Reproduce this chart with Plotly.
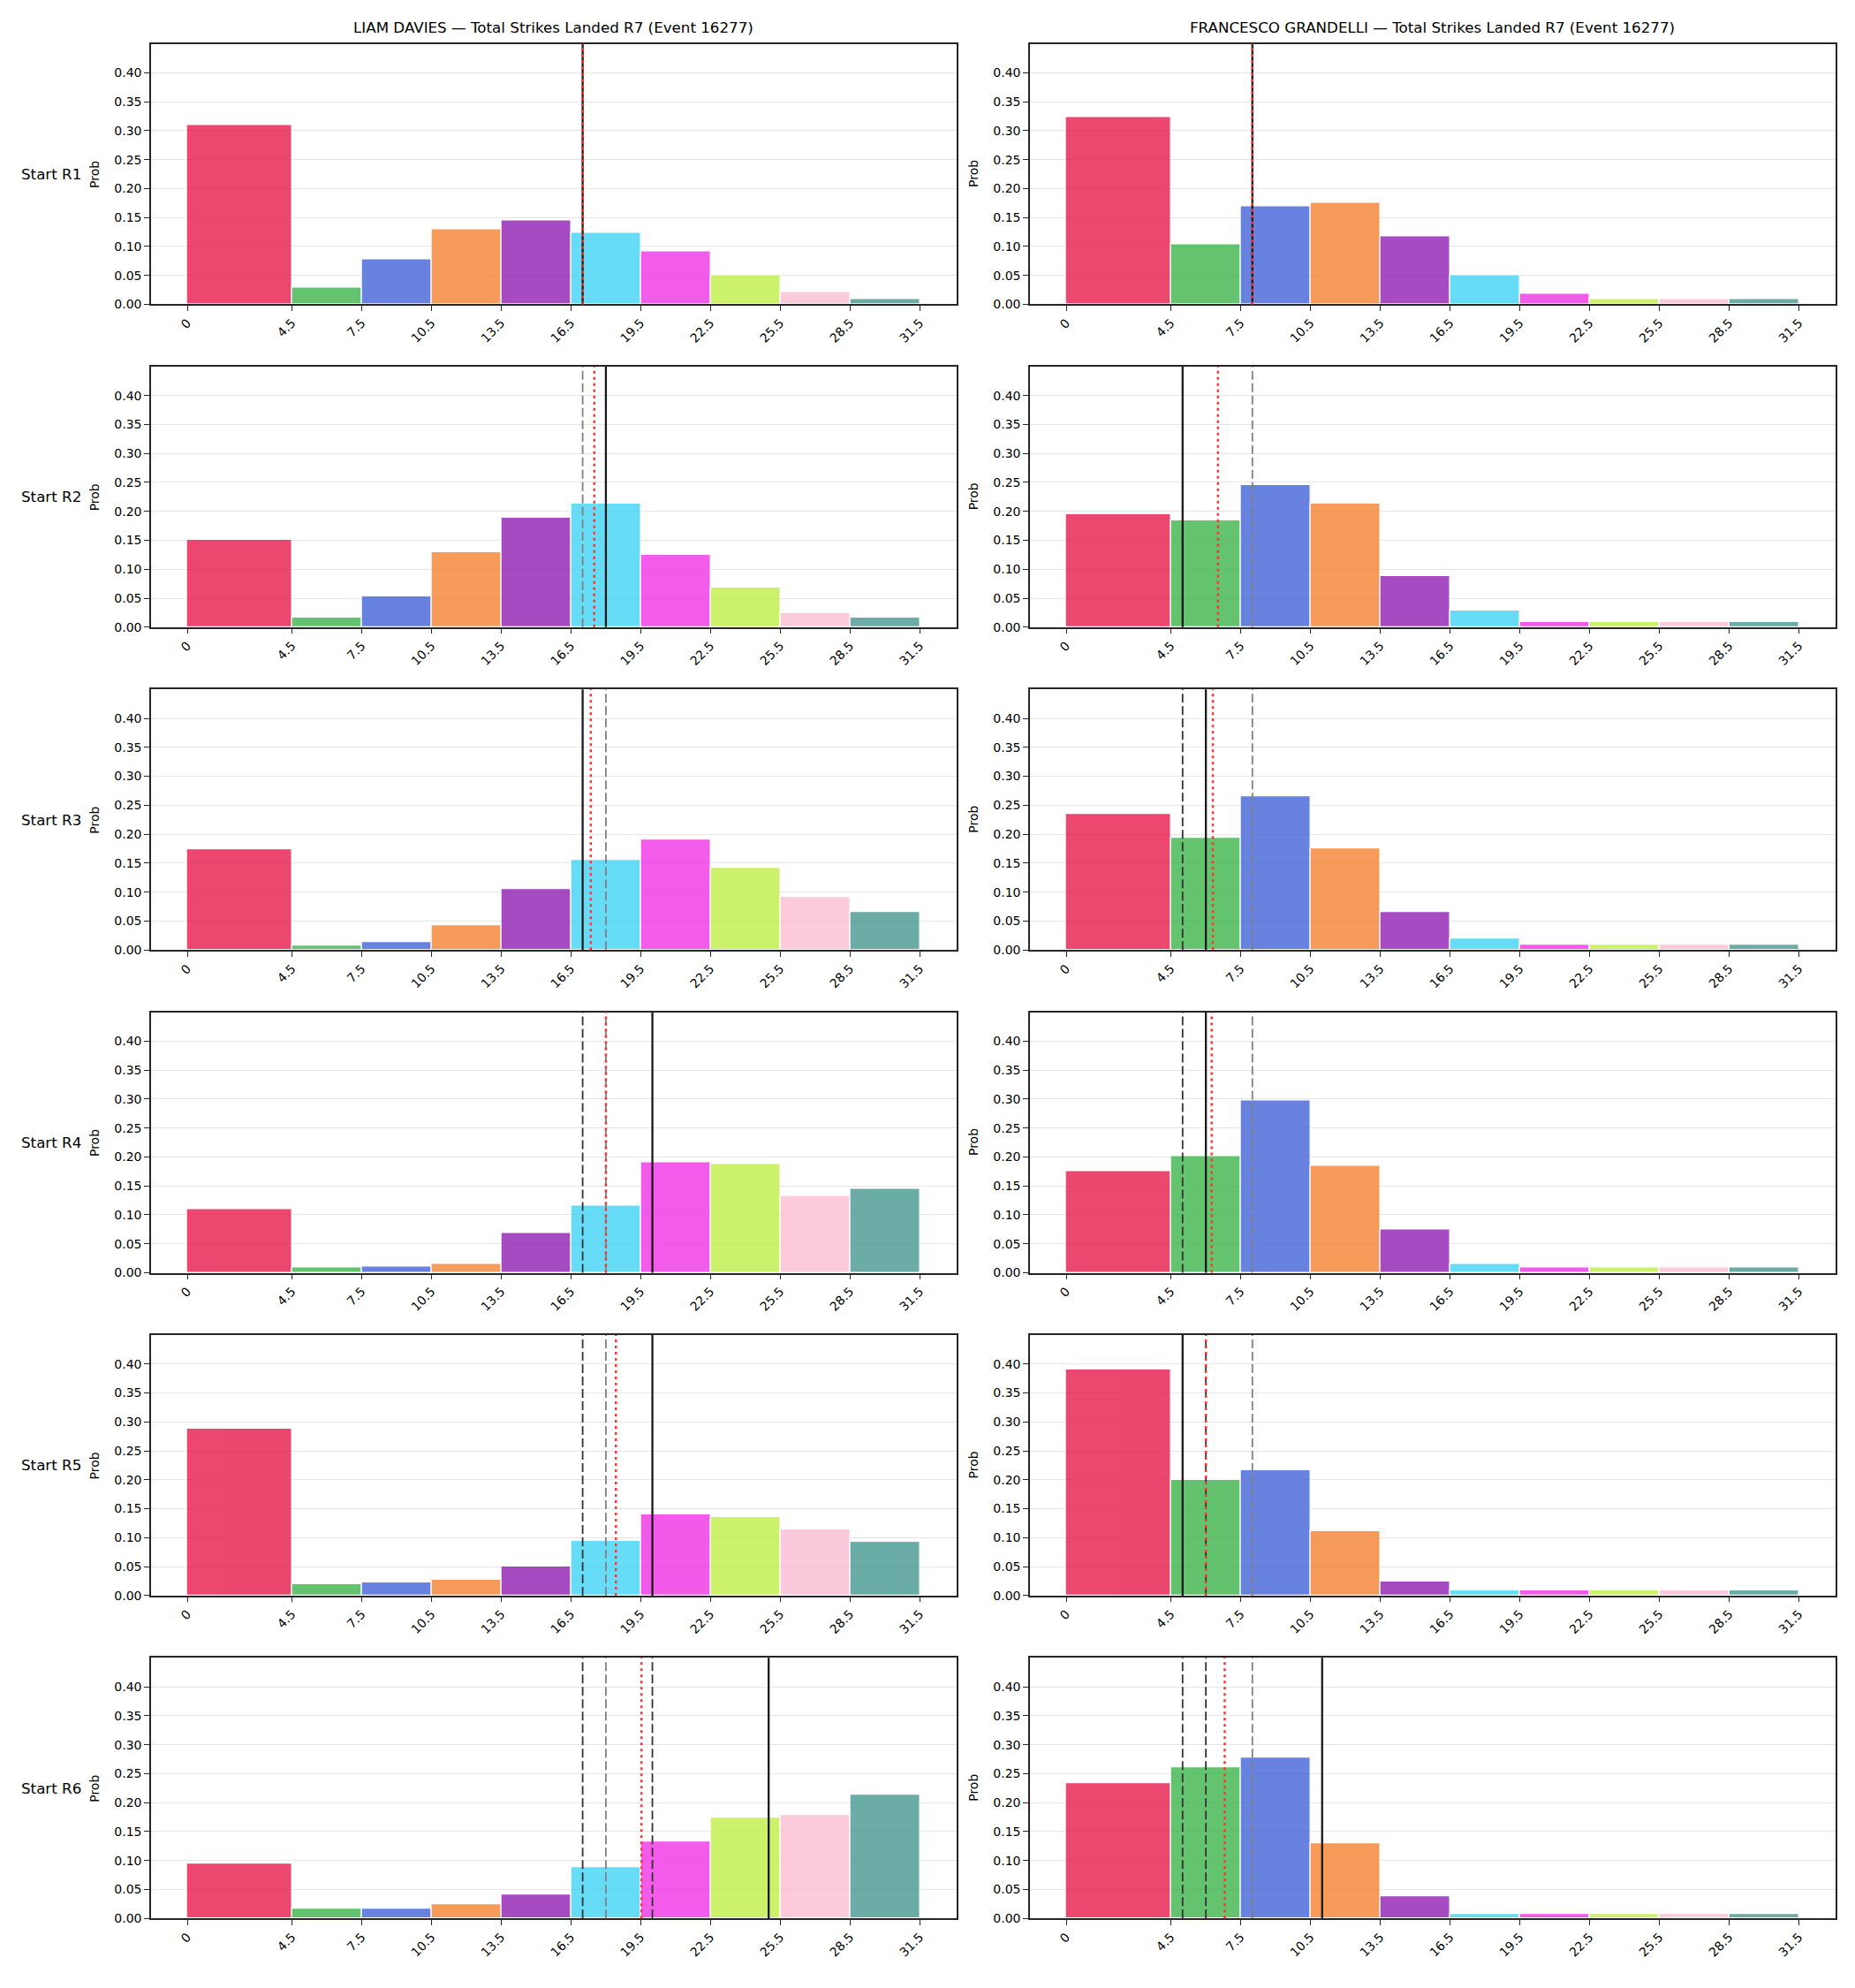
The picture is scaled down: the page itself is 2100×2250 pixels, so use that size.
import plotly.graph_objects as go

# ---------------- data ----------------
bin_edges = [0, 4.5, 7.5, 10.5, 13.5, 16.5, 19.5, 22.5, 25.5, 28.5, 31.5]
tick_labels = ["0", "4.5", "7.5", "10.5", "13.5", "16.5", "19.5", "22.5", "25.5", "28.5", "31.5"]
bin_colors = ["#e6194b", "#3cb44b", "#4363d8", "#f58231", "#911eb4",
              "#42d4f4", "#f032e6", "#bfef45", "#fabed4", "#469990"]
round_labels = ["Start R1", "Start R2", "Start R3", "Start R4", "Start R5", "Start R6"]
fighters = ["LIAM DAVIES", "FRANCESCO GRANDELLI"]
title_suffix = " — Total Strikes Landed R7 (Event 16277)"

davies_r1 = [0.310, 0.029, 0.077, 0.129, 0.145, 0.124, 0.091, 0.051, 0.021, 0.009]
davies_r2 = [0.151, 0.016, 0.053, 0.130, 0.189, 0.213, 0.125, 0.069, 0.025, 0.016]
davies_r3 = [0.174, 0.008, 0.014, 0.043, 0.105, 0.155, 0.190, 0.142, 0.091, 0.065]
davies_r4 = [0.110, 0.009, 0.011, 0.015, 0.069, 0.116, 0.190, 0.188, 0.132, 0.145]
davies_r5 = [0.288, 0.019, 0.023, 0.027, 0.050, 0.095, 0.141, 0.135, 0.114, 0.093]
davies_r6 = [0.095, 0.016, 0.016, 0.025, 0.041, 0.089, 0.133, 0.174, 0.178, 0.213]

grandelli_r1 = [0.324, 0.104, 0.170, 0.175, 0.117, 0.051, 0.018, 0.009, 0.009, 0.009]
grandelli_r2 = [0.195, 0.184, 0.245, 0.213, 0.088, 0.029, 0.009, 0.009, 0.009, 0.009]
grandelli_r3 = [0.235, 0.194, 0.266, 0.176, 0.066, 0.019, 0.009, 0.009, 0.009, 0.009]
grandelli_r4 = [0.175, 0.202, 0.298, 0.185, 0.075, 0.015, 0.009, 0.009, 0.009, 0.009]
grandelli_r5 = [0.390, 0.200, 0.216, 0.112, 0.025, 0.009, 0.009, 0.009, 0.009, 0.009]
grandelli_r6 = [0.233, 0.261, 0.278, 0.130, 0.038, 0.007, 0.007, 0.007, 0.007, 0.007]

# reference lines per start round
davies_solid = [17, 18, 17, 20, 20, 25]
davies_mean = [17.0, 17.5, 17.35, 18.0, 18.43, 19.53]
davies_dark_dashed = [[], [], [], [17], [17], [17, 20]]
davies_gray_dashed = [[], [17], [18], [18], [18], [18]]

grandelli_solid = [8, 5, 6, 6, 5, 11]
grandelli_mean = [8.0, 6.52, 6.3, 6.25, 6.0, 6.81]
grandelli_dark_dashed = [[], [], [5], [5], [6], [5, 6]]
grandelli_gray_dashed = [[], [8], [8], [8], [8], [8]]

davies_probs = [davies_r1, davies_r2, davies_r3, davies_r4, davies_r5, davies_r6]
grandelli_probs = [grandelli_r1, grandelli_r2, grandelli_r3, grandelli_r4, grandelli_r5, grandelli_r6]

columns = [
    dict(probs=davies_probs, solid=davies_solid, mean=davies_mean,
         dark=davies_dark_dashed, gray=davies_gray_dashed),
    dict(probs=grandelli_probs, solid=grandelli_solid, mean=grandelli_mean,
         dark=grandelli_dark_dashed, gray=grandelli_gray_dashed),
]

# ---------------- layout geometry (pixels) ----------------
W, H = 2100, 2250
col_px = [(170.7, 1082.7), (1165.7, 2078.0)]
row_top0, row_h, row_pitch = 49.7, 296.0, 366.66

FONT = "DejaVu Sans"
TXT = "#000000"
SPINE = "#262626"

centers = [(bin_edges[i] + bin_edges[i + 1]) / 2 for i in range(len(bin_edges) - 1)]
widths = [bin_edges[i + 1] - bin_edges[i] for i in range(len(bin_edges) - 1)]

fig = go.Figure()
layout = dict(
    width=W, height=H,
    margin=dict(l=0, r=0, t=0, b=0),
    paper_bgcolor="white", plot_bgcolor="white",
    showlegend=False,
    font=dict(family=FONT, size=14, color=TXT),
    bargap=0,
)
shapes = []
annotations = []

for r in range(6):
    top = row_top0 + r * row_pitch
    bot = top + row_h
    for c in range(2):
        n = r * 2 + c + 1
        sfx = "" if n == 1 else str(n)
        col = columns[c]
        fig.add_trace(go.Bar(
            x=centers, y=col["probs"][r], width=widths,
            marker=dict(color=bin_colors, line=dict(color="white", width=1.2)),
            opacity=0.8,
            xaxis="x" + sfx, yaxis="y" + sfx,
            hoverinfo="skip",
        ))
        x0p, x1p = col_px[c]
        layout["xaxis" + sfx] = dict(
            domain=[x0p / W, x1p / W], anchor="y" + sfx,
            range=[-1.575, 33.075],
            tickmode="array", tickvals=bin_edges, ticktext=tick_labels,
            tickangle=-45,
            ticks="outside", ticklen=5.5, tickwidth=1.3, tickcolor=SPINE,
            showline=True, linecolor=SPINE, linewidth=1.8, mirror=True,
            showgrid=False, zeroline=False,
            tickfont=dict(family=FONT, size=14, color=TXT),
        )
        layout["yaxis" + sfx] = dict(
            domain=[1 - bot / H, 1 - top / H], anchor="x" + sfx,
            range=[0, 0.45],
            tickmode="array",
            tickvals=[0, 0.05, 0.10, 0.15, 0.20, 0.25, 0.30, 0.35, 0.40],
            ticktext=["0.00", "0.05", "0.10", "0.15", "0.20", "0.25", "0.30", "0.35", "0.40"],
            ticks="outside", ticklen=5.5, tickwidth=1.3, tickcolor=SPINE,
            showline=True, linecolor=SPINE, linewidth=1.8, mirror=True,
            showgrid=True, gridcolor="#e6e6e6", gridwidth=1,
            zeroline=False, layer="above traces",
            tickfont=dict(family=FONT, size=14, color=TXT),
        )
        xr, yr = "x" + sfx, "y" + sfx + " domain"
        for v in col["gray"][r]:
            shapes.append(dict(type="line", xref=xr, yref=yr, x0=v, x1=v, y0=0, y1=1,
                               line=dict(color="#808080", width=1.8, dash="10px,4px")))
        for v in col["dark"][r]:
            shapes.append(dict(type="line", xref=xr, yref=yr, x0=v, x1=v, y0=0, y1=1,
                               line=dict(color="#333333", width=1.8, dash="10px,4px")))
        v = col["solid"][r]
        shapes.append(dict(type="line", xref=xr, yref=yr, x0=v, x1=v, y0=0, y1=1,
                           line=dict(color="#1a1a1a", width=2.3)))
        v = col["mean"][r]
        shapes.append(dict(type="line", xref=xr, yref=yr, x0=v, x1=v, y0=0, y1=1,
                           line=dict(color="#ff3333", width=2.5, dash="3px,4px")))
        # y label "Prob"
        annotations.append(dict(
            text="Prob", x=(x0p - 63.7) / W, y=1 - (top + bot) / 2 / H,
            xref="paper", yref="paper", xanchor="center", yanchor="middle",
            textangle=-90, showarrow=False, font=dict(family=FONT, size=14, color=TXT)))
        if r == 0:
            annotations.append(dict(
                text=fighters[c] + title_suffix, x=(x0p + x1p) / 2 / W, y=1 - 31.5 / H,
                xref="paper", yref="paper", xanchor="center", yanchor="middle",
                showarrow=False, font=dict(family=FONT, size=16.7, color=TXT)))
    annotations.append(dict(
        text=round_labels[r], x=57.5 / W, y=1 - (top + row_h / 2) / H,
        xref="paper", yref="paper", xanchor="center", yanchor="middle",
        showarrow=False, font=dict(family=FONT, size=16.7, color=TXT)))

layout["shapes"] = shapes
layout["annotations"] = annotations
fig.update_layout(**layout)
fig.write_html("out.html")
